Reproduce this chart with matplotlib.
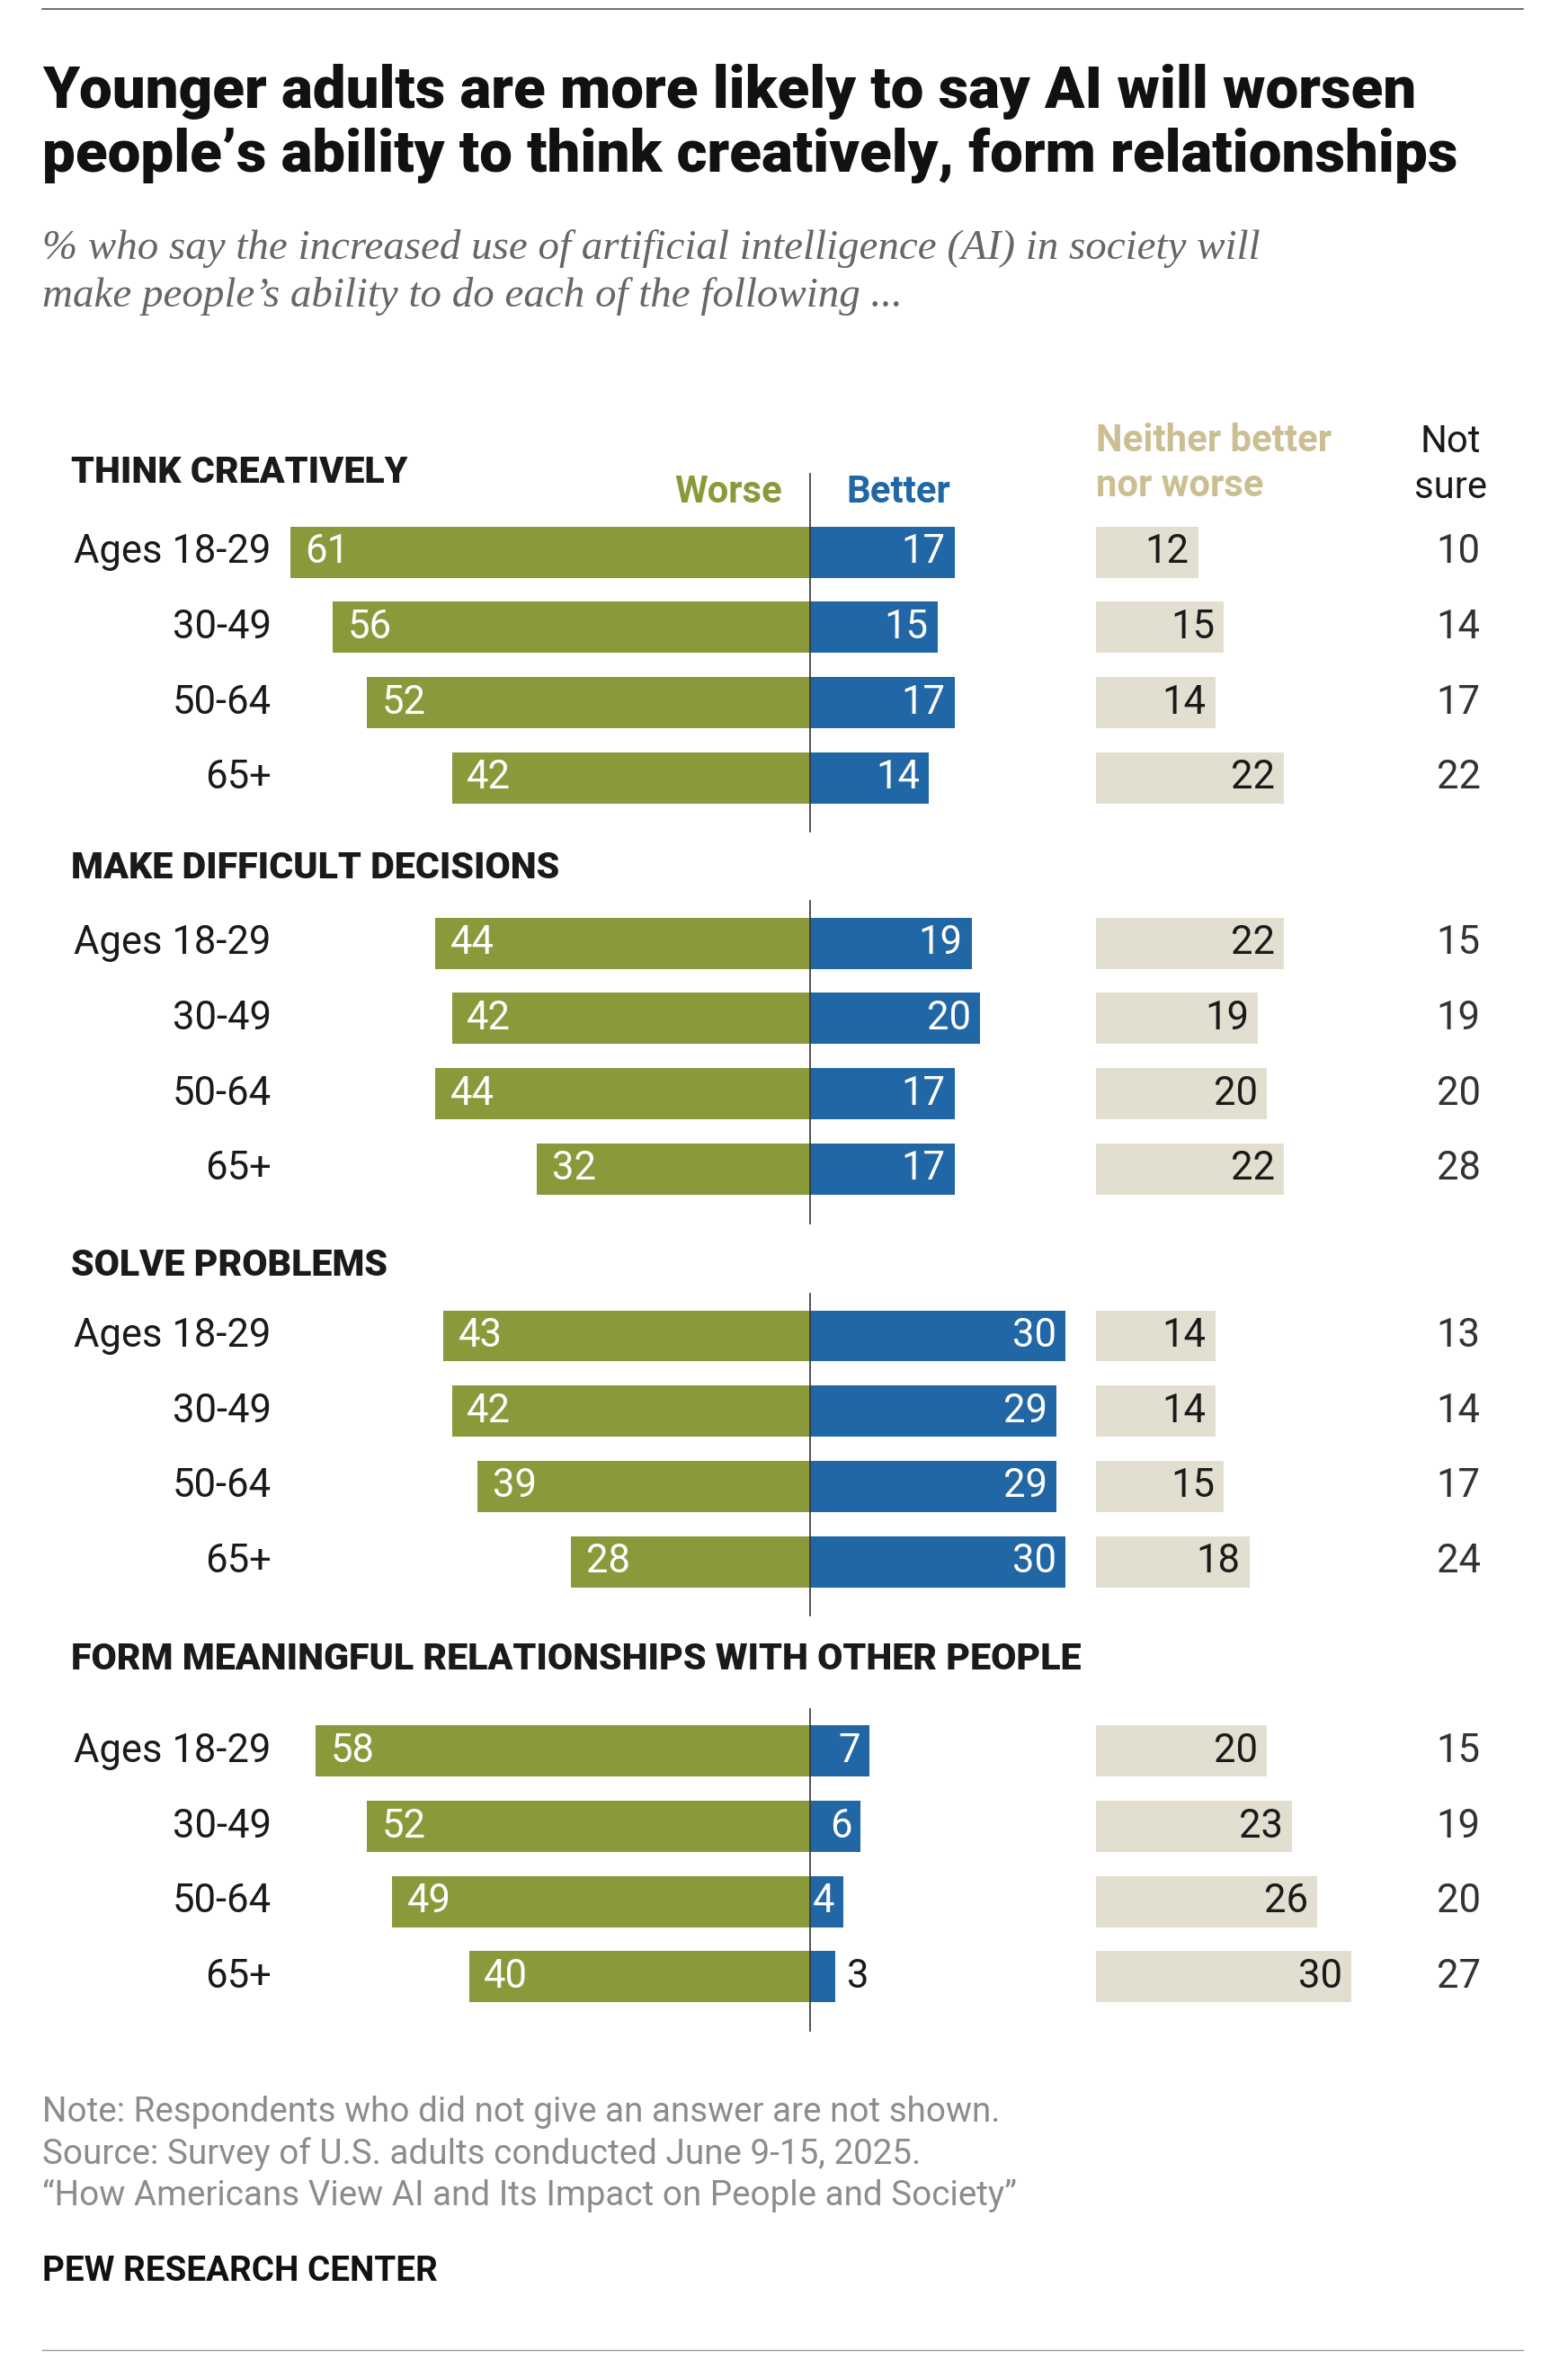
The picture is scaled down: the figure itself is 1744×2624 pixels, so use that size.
import matplotlib.pyplot as plt

# data
groups = ["THINK CREATIVELY", "MAKE DIFFICULT DECISIONS", "SOLVE PROBLEMS",
          "FORM MEANINGFUL RELATIONSHIPS WITH OTHER PEOPLE"]
ages = ["Ages 18-29", "30-49", "50-64", "65+"]
worse = [[61, 56, 52, 42], [44, 42, 44, 32], [43, 42, 39, 28], [58, 52, 49, 40]]
better = [[17, 15, 17, 14], [19, 20, 17, 17], [30, 29, 29, 30], [7, 6, 4, 3]]
neither = [[12, 15, 14, 22], [22, 19, 20, 22], [14, 14, 15, 18], [20, 23, 26, 30]]
notsure = [[10, 14, 17, 22], [15, 19, 20, 28], [13, 14, 17, 24], [15, 19, 20, 27]]

C = {"worse": "#8a9a3b", "better": "#2166a5", "neither": "#e2ded0",
     "neither_hdr": "#cbbf92", "text": "#1a1a1a", "note": "#8c8c8c"}

S = 1744 / 1040  # display -> real px
def fs(px):
    return px * S * 0.72

plt.rcParams["font.family"] = ["Roboto", "DejaVu Sans"]
fig = plt.figure(figsize=(17.44, 26.24), dpi=100)
ax = fig.add_axes([0, 0, 1, 1])
ax.set_xlim(0, 1040)
ax.set_ylim(1568, 0)
ax.axis("off")

ax.plot([28, 1010], [6, 6], color="#555555", lw=1.2)
ax.plot([28, 1010], [1562, 1562], color="#999999", lw=1.0)

ax.text(28, 82, "Younger adults are more likely to say AI will worsen\npeople’s ability to think creatively, form relationships",
        fontsize=fs(39), fontweight="black", va="center", ha="left", linespacing=1.18, color="#111111")
ax.text(28, 181, "% who say the increased use of artificial intelligence (AI) in society will\nmake people’s ability to do each of the following ...",
        fontsize=fs(28), style="italic", family="Liberation Serif", va="center", ha="left",
        linespacing=1.3, color="#666666")

X0 = 537
K = 5.65
NX = 727
H = 34
group_y = [367, 627, 888, 1164]
hdr_y = [314, 577, 841, 1103]
step = 50

ax.text(483, 327, "Worse", fontsize=fs(25), fontweight="bold", color=C["worse"], ha="center", va="center")
ax.text(596, 327, "Better", fontsize=fs(25), fontweight="bold", color=C["better"], ha="center", va="center")
ax.text(727, 308, "Neither better\nnor worse", fontsize=fs(25), fontweight="bold", color=C["neither_hdr"],
        ha="left", va="center", linespacing=1.3)
ax.text(962, 309, "Not\nsure", fontsize=fs(25), color=C["text"], ha="center", va="center", linespacing=1.3)

for g in range(4):
    ax.text(47, hdr_y[g], groups[g], fontsize=fs(24.5), fontweight="black", color=C["text"], va="center")
    ys = [group_y[g] + i * step for i in range(4)]
    ax.barh(ys, [-w * K for w in worse[g]], left=X0, height=H, color=C["worse"])
    ax.barh(ys, [b * K for b in better[g]], left=X0, height=H, color=C["better"])
    ax.barh(ys, [n * K for n in neither[g]], left=NX, height=H, color=C["neither"])
    top = ys[0] - 52 if g == 0 else ys[0] - 28
    ax.plot([X0, X0], [top, ys[-1] + 36], color="#333333", lw=1.2)
    for i, y in enumerate(ys):
        ax.text(180, y, ages[i], fontsize=fs(26), ha="right", va="center", color=C["text"])
        ax.text(X0 - worse[g][i] * K + 10, y, str(worse[g][i]), fontsize=fs(26), color="white",
                ha="left", va="center")
        bx = X0 + better[g][i] * K
        if better[g][i] >= 4:
            ax.text(bx - 6, y, str(better[g][i]), fontsize=fs(26), color="white", ha="right", va="center")
        else:
            ax.text(bx + 8, y, str(better[g][i]), fontsize=fs(26), color=C["text"], ha="left", va="center")
        ax.text(NX + neither[g][i] * K - 6, y, str(neither[g][i]), fontsize=fs(26), color=C["text"],
                ha="right", va="center")
        ax.text(982, y, str(notsure[g][i]), fontsize=fs(26), color="#333333", ha="right", va="center")

ax.text(28, 1432, "Note: Respondents who did not give an answer are not shown.\n"
        "Source: Survey of U.S. adults conducted June 9-15, 2025.\n"
        "“How Americans View AI and Its Impact on People and Society”",
        fontsize=fs(23), color=C["note"], va="center", ha="left", linespacing=1.3)
ax.text(28, 1510, "PEW RESEARCH CENTER", fontsize=fs(23), fontweight="bold", color="#111111", va="center")

fig.savefig("out.png", dpi=100)
